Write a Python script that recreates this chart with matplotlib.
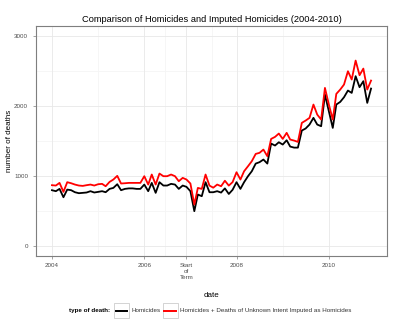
import numpy as np
import pandas as pd
from matplotlib import pyplot as plt
from matplotlib.patches import Rectangle
from matplotlib.lines import Line2D

plt.rcParams['font.family'] = ['Liberation Sans', 'DejaVu Sans']

# monthly counts, Jan 2004 - Dec 2010
homicides = [
    794, 780, 813, 693, 803, 794, 765, 751, 756, 761, 780, 761,
    770, 780, 765, 813, 827, 880, 794, 813, 820, 820, 813, 813,
    875, 780, 899, 756, 909, 861, 861, 885, 875, 813, 861, 842,
    780, 493, 732, 708, 909, 765, 765, 780, 760, 820, 740, 800,
    909, 813, 909, 995, 1066, 1176, 1196, 1234, 1176, 1463, 1435, 1482,
    1449, 1511, 1420, 1405, 1405, 1650, 1679, 1736, 1832, 1736, 1712, 2166,
    1927, 1688, 2023, 2061, 2128, 2224, 2190, 2430, 2272, 2358, 2047, 2252,
]
imputed = [
    866, 861, 899, 770, 909, 894, 875, 861, 856, 866, 875, 861,
    880, 885, 851, 913, 947, 1000, 890, 894, 899, 899, 899, 899,
    995, 875, 1019, 875, 1033, 995, 995, 1019, 995, 923, 971, 947,
    890, 588, 827, 813, 1019, 860, 830, 875, 851, 930, 860, 910,
    1052, 947, 1066, 1138, 1210, 1315, 1330, 1377, 1282, 1530, 1559, 1607,
    1530, 1617, 1521, 1506, 1487, 1760, 1793, 1832, 2023, 1879, 1808, 2262,
    2023, 1808, 2176, 2238, 2310, 2501, 2382, 2654, 2444, 2539, 2238, 2367,
]
dates = pd.date_range("2004-01-01", periods=len(homicides), freq="MS")

x_break_dates = ["2004-01-01", "2006-01-01", "2006-12-01", "2008-01-01", "2010-01-01"]
x_break_labels = ["2004", "2006", "Start\nof\nTerm", "2008", "2010"]
y_breaks = [0, 1000, 2000, 3000]
series_labels = ["Homicides", "Homicides + Deaths of Unknown Intent Imputed as Homicides"]
series_colors = ["black", "#FF0000"]

fig = plt.figure(figsize=(4, 3.36), dpi=100)
ax = fig.add_axes([36 / 400, 1 - 256 / 336, 351 / 400, 230 / 336])

ax.plot(dates, homicides, color=series_colors[0], lw=1.3, solid_joinstyle='round')
ax.plot(dates, imputed, color=series_colors[1], lw=1.3, solid_joinstyle='round')

# limits with ggplot-like 5% expansion
x0, x1 = dates[0], dates[-1]
span = x1 - x0
ax.set_xlim(x0 - span * 0.05, x1 + span * 0.05)
ax.set_ylim(-150, 3150)

xb = pd.to_datetime(x_break_dates)
ax.set_xticks(xb)
ax.set_xticklabels(x_break_labels, linespacing=1.25)
ax.set_yticks(y_breaks)
ax.set_yticklabels([str(v) for v in y_breaks])

# grid: minor lines halfway between breaks
minor_x = [xb[i] + (xb[i + 1] - xb[i]) / 2 for i in range(len(xb) - 1)]
for d in minor_x:
    ax.axvline(d, color="#f5f5f5", lw=0.6, zorder=0)
for v in [500, 1500, 2500]:
    ax.axhline(v, color="#f5f5f5", lw=0.6, zorder=0)
for d in xb:
    ax.axvline(d, color="#e8e8e8", lw=0.6, zorder=0)
for v in y_breaks:
    ax.axhline(v, color="#e8e8e8", lw=0.6, zorder=0)

for s in ax.spines.values():
    s.set_color("#7f7f7f")
    s.set_linewidth(0.8)
ax.tick_params(axis='both', length=2.2, width=0.5, color="#7f7f7f",
               labelsize=4.5, labelcolor="#4d4d4d")
ax.tick_params(axis='y', pad=3.5)
ax.tick_params(axis='x', pad=2.5)

ax.set_xlabel("date", fontsize=5.8)
ax.set_ylabel("number of deaths", fontsize=5.8)
ax.xaxis.set_label_coords(0.5, -0.158)
ax.yaxis.set_label_coords(-0.066, 0.5)
ax.set_title("Comparison of Homicides and Imputed Homicides (2004-2010)",
             fontsize=6.7, pad=3)

# legend along the bottom
ly = 1 - 310.7 / 336
fig.text(69 / 400, ly, "type of death:", fontsize=4.5, fontweight='bold',
         ha='left', va='center')
key_x = [114, 162.7]
text_x = [131.7, 180]
for kx, tx, lab, col in zip(key_x, text_x, series_labels, series_colors):
    fig.patches.append(Rectangle((kx / 400, 1 - 318 / 336), 15 / 400, 15 / 336,
                                 transform=fig.transFigure, facecolor="white",
                                 edgecolor="#cccccc", lw=0.6))
    fig.lines.append(Line2D([(kx + 1.5) / 400, (kx + 13.5) / 400], [ly, ly],
                            transform=fig.transFigure, color=col, lw=1.4))
    fig.text(tx / 400, ly, lab, fontsize=4.5, color="#333333", ha='left', va='center')

fig.savefig("out.png", dpi=100)
